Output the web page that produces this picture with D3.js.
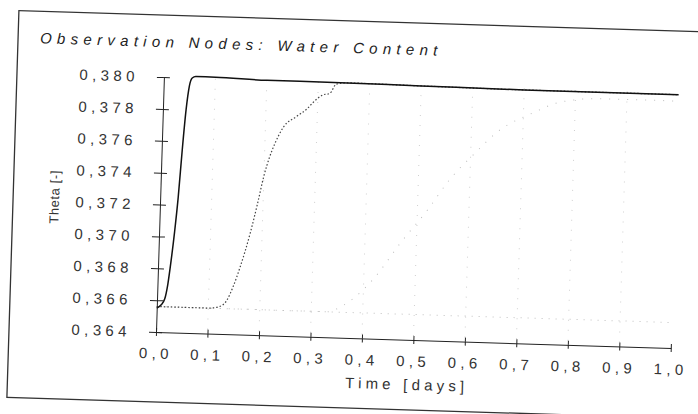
<!DOCTYPE html>
<html>
<head>
<meta charset="utf-8">
<script src="https://cdn.jsdelivr.net/npm/d3@7"></script>
<style>
  html, body { margin: 0; padding: 0; background: #fff; }
  svg { display: block; }
  text { font-family: "Liberation Sans", Arial, sans-serif; }
</style>
</head>
<body>
<svg id="chart" width="698" height="414"></svg>
<script>
// ---- data ----
const titleText = "Observation Nodes: Water Content";
const xLabel = "Time [days]";
const yLabel = "Theta [-]";
const xTickValues = [0.0, 0.1, 0.2, 0.3, 0.4, 0.5, 0.6, 0.7, 0.8, 0.9, 1.0];
const yTickValues = [0.364, 0.366, 0.368, 0.370, 0.372, 0.374, 0.376, 0.378, 0.380];

// Node 1 (solid, dark)
const node1Time  = [0, 0.008, 0.015, 0.020, 0.025, 0.030, 0.035, 0.040, 0.045, 0.050, 0.055, 0.062, 0.10, 0.20, 0.33, 0.50, 0.70, 1.00];
const node1Theta = [0.3655, 0.3657, 0.3661, 0.3670, 0.3685, 0.3703, 0.3725, 0.3755, 0.3780, 0.3795, 0.3800, 0.3801, 0.3801, 0.3800, 0.3800, 0.37995, 0.3799, 0.3799];
// Node 2 (dotted, dark grey)
const node2Time  = [0, 0.05, 0.10, 0.12, 0.135, 0.147, 0.159, 0.177, 0.189, 0.200, 0.210, 0.220, 0.235, 0.260, 0.280, 0.291, 0.310, 0.323, 0.335, 0.36, 0.50, 0.70, 1.00];
const node2Theta = [0.3656, 0.3656, 0.3656, 0.3657, 0.3661, 0.3670, 0.3682, 0.3704, 0.3722, 0.3740, 0.3752, 0.3761, 0.3771, 0.3778, 0.3783, 0.3787, 0.3792, 0.3793, 0.3799, 0.3800, 0.37995, 0.3799, 0.3799];
// Node 3 (faint)
const node3Time  = [0, 0.33, 0.36, 0.395, 0.42, 0.47, 0.52, 0.56, 0.61, 0.65, 0.72, 0.77, 0.85, 1.00];
const node3Theta = [0.3656, 0.3656, 0.3660, 0.3669, 0.3678, 0.3701, 0.3722, 0.3741, 0.3759, 0.3772, 0.3785, 0.3792, 0.3795, 0.3795];
// Node 4 (faint)
const node4Time  = [0, 0.25, 0.50, 0.75, 1.00];
const node4Theta = [0.3656, 0.3656, 0.3656, 0.3656, 0.3656];

// ---- layout ----
const svg = d3.select("#chart");
const ox = 156, oy = 332;      // axis origin
const pw = 515, ph = 255;      // plot size
const angle = 1.78;            // scan tilt

const root = svg.append("g").attr("transform", `rotate(${angle},${ox},${oy})`);

// outer frame
root.append("rect")
  .attr("x", 9).attr("y", 15).attr("width", 760).attr("height", 387)
  .attr("fill", "none").attr("stroke", "#333").attr("stroke-width", 1.3);

const x = d3.scaleLinear().domain([0, 1]).range([ox, ox + pw]);
const y = d3.scaleLinear().domain([0.364, 0.380]).range([oy, oy - ph]);

const loc = d3.formatLocale({decimal: ",", thousands: ".", grouping: [3], currency: ["", ""]});
const fx = loc.format(".1f"), fy = loc.format(".3f");

// title
root.append("text")
  .attr("x", 31).attr("y", 47)
  .attr("font-size", 15).attr("font-style", "italic")
  .attr("letter-spacing", 5.3)
  .attr("fill", "#222")
  .text(titleText);

// faint vertical grid
root.append("g").selectAll("line")
  .data(xTickValues.slice(1, -1))
  .join("line")
  .attr("x1", d => x(d)).attr("x2", d => x(d))
  .attr("y1", y(0.380)).attr("y2", oy)
  .attr("stroke", "#cfcfcf").attr("stroke-width", 1)
  .attr("stroke-dasharray", "1,9");

// series
const line = d3.line().x(d => x(d[0])).y(d => y(d[1]));
const zip = (a, b) => a.map((v, i) => [v, b[i]]);

root.append("path").datum(zip(node4Time, node4Theta)).attr("d", line)
  .attr("fill", "none").attr("stroke", "#c0c0c0").attr("stroke-width", 1)
  .attr("stroke-dasharray", "1,6");
root.append("path").datum(zip(node3Time, node3Theta)).attr("d", line.curve(d3.curveMonotoneX))
  .attr("fill", "none").attr("stroke", "#bdbdbd").attr("stroke-width", 1)
  .attr("stroke-dasharray", "1,8");
root.append("path").datum(zip(node2Time, node2Theta)).attr("d", line.curve(d3.curveMonotoneX))
  .attr("fill", "none").attr("stroke", "#444").attr("stroke-width", 1.2)
  .attr("stroke-dasharray", "1.5,2");
root.append("path").datum(zip(node1Time, node1Theta)).attr("d", line.curve(d3.curveMonotoneX))
  .attr("fill", "none").attr("stroke", "#111").attr("stroke-width", 1.5);

// y axis
const gy = root.append("g").attr("transform", `translate(${ox},0)`)
  .call(d3.axisLeft(y).tickValues(yTickValues).tickFormat(fy).tickSizeInner(7).tickSizeOuter(0).tickPadding(18));
gy.selectAll(".tick").append("line").attr("x2", 6).attr("stroke", "currentColor");
gy.select(".domain").attr("stroke", "#222");
gy.selectAll(".tick line").attr("stroke", "#222");
gy.selectAll(".tick text")
  .attr("font-size", 15).attr("letter-spacing", 4.4).attr("fill", "#333")
  .attr("font-family", "'Liberation Sans', Arial, sans-serif");

// x axis
const gx = root.append("g").attr("transform", `translate(0,${oy})`)
  .call(d3.axisBottom(x).tickValues(xTickValues).tickFormat(fx).tickSizeInner(4).tickSizeOuter(0).tickPadding(12));
gx.selectAll(".tick").append("line").attr("y2", -4).attr("stroke", "currentColor");
gx.select(".domain").attr("stroke", "#222");
gx.selectAll(".tick line").attr("stroke", "#222");
gx.selectAll(".tick text")
  .attr("font-size", 15).attr("letter-spacing", 4.4).attr("fill", "#333")
  .attr("font-family", "'Liberation Sans', Arial, sans-serif");

// axis labels
root.append("text")
  .attr("x", x(0.49)).attr("y", oy + 50)
  .attr("text-anchor", "middle")
  .attr("font-size", 15).attr("letter-spacing", 4.2).attr("fill", "#333")
  .text(xLabel);

root.append("text")
  .attr("transform", `translate(${ox - 101},${oy - 132}) rotate(-90)`)
  .attr("text-anchor", "middle")
  .attr("font-size", 13).attr("letter-spacing", 0.6).attr("fill", "#333")
  .text(yLabel);
</script>
</body>
</html>
